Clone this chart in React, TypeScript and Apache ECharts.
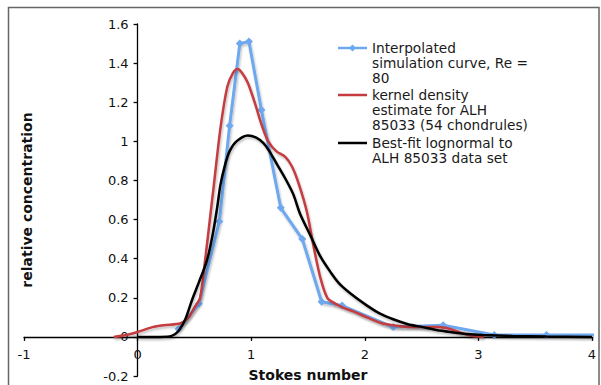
import React, { useEffect, useRef } from "react";
import * as echarts from "echarts";

const xTicks = { min: -1, max: 4, interval: 1 };
const yTicks = { min: -0.2, max: 1.6, interval: 0.2 };

const seriesNames = [
  "Interpolated\nsimulation curve, Re =\n80",
  "kernel density\nestimate for ALH\n85033 (54 chondrules)",
  "Best-fit lognormal to\nALH 85033 data set",
];

const simulationCurve: [number, number][] = [
  [0.36, 0.04], [0.54, 0.17], [0.72, 0.59], [0.81, 1.08], [0.9, 1.5], [0.98, 1.51],
  [1.09, 1.16], [1.26, 0.66], [1.45, 0.5], [1.62, 0.18], [1.8, 0.16], [2.25, 0.05],
  [2.69, 0.06], [3.14, 0.01], [3.6, 0.01], [4.06, 0.01],
];

const kernelDensity: [number, number][] = [
  [-0.21, 0], [-0.1, 0.01], [0, 0.025], [0.13, 0.05], [0.23, 0.06], [0.38, 0.07],
  [0.45, 0.1], [0.5, 0.15], [0.55, 0.2], [0.6, 0.42], [0.64, 0.62], [0.67, 0.77],
  [0.73, 1.07], [0.79, 1.28], [0.84, 1.35], [0.88, 1.37], [0.92, 1.35], [0.97, 1.3],
  [1.03, 1.2], [1.1, 1.07], [1.15, 1.0], [1.22, 0.95], [1.3, 0.92], [1.36, 0.87],
  [1.42, 0.78], [1.49, 0.64], [1.55, 0.46], [1.61, 0.3], [1.67, 0.2], [1.74, 0.17],
  [1.81, 0.15], [1.9, 0.13], [2.02, 0.1], [2.15, 0.07], [2.25, 0.06], [2.4, 0.05],
  [2.51, 0.05], [2.65, 0.05], [2.75, 0.04], [2.85, 0.02], [2.95, 0.005], [3.05, 0],
];

const lognormalFit: [number, number][] = [
  [0, 0], [0.2, 0], [0.3, 0.005], [0.36, 0.03], [0.42, 0.09], [0.48, 0.19],
  [0.54, 0.28], [0.61, 0.39], [0.66, 0.52], [0.7, 0.66], [0.73, 0.78], [0.77, 0.88],
  [0.81, 0.95], [0.87, 1.0], [0.97, 1.03], [1.04, 1.02], [1.11, 0.99], [1.17, 0.94],
  [1.23, 0.88], [1.3, 0.81], [1.37, 0.73], [1.43, 0.63], [1.52, 0.52], [1.61, 0.41],
  [1.7, 0.33], [1.78, 0.27], [1.9, 0.21], [2.02, 0.16], [2.13, 0.12], [2.25, 0.09],
  [2.38, 0.065], [2.51, 0.05], [2.63, 0.035], [2.75, 0.025], [2.9, 0.015], [3.04, 0.01],
  [3.3, 0.005], [3.6, 0.002], [4.0, 0],
];

const colors = ["#6ea8ee", "#c43c40", "#000000"];
const FONT = "DejaVu Sans";

const W = 601;
const H = 385;
const GRID = { left: 24, right: 9, top: 24, bottom: 9 };

export default function App() {
  const ref = useRef<HTMLDivElement>(null);
  useEffect(() => {
    if (!ref.current) return;
    const chart = echarts.init(ref.current, undefined, { renderer: "svg" });
    const shadow = {
      shadowColor: "rgba(0,0,0,0.25)",
      shadowBlur: 2,
      shadowOffsetX: 1,
      shadowOffsetY: 2,
    };
    // shift axes so that they cross at the origin (0, 0)
    const gw = W - GRID.left - GRID.right;
    const gh = H - GRID.top - GRID.bottom;
    const yAxisOffset = -((0 - xTicks.min) / (xTicks.max - xTicks.min)) * gw;
    const xAxisOffset = -((0 - yTicks.min) / (yTicks.max - yTicks.min)) * gh;

    const axisText = { fontFamily: FONT, fontSize: 13, color: "#111" };
    const legendX = 338;
    const legendTops = [40.5, 87.5, 135.5];
    const graphics: any[] = [
      {
        type: "rect",
        shape: { x: 8.5, y: 7.5, width: 590.5, height: 400 },
        style: { fill: "none", stroke: "#666", lineWidth: 1.5 },
        silent: true,
      },
    ];
    seriesNames.forEach((name, i) => {
      const cy = legendTops[i] + 7.5;
      graphics.push({
        type: "line",
        shape: { x1: legendX, y1: cy, x2: legendX + 29, y2: cy },
        style: { stroke: colors[i], lineWidth: 2.5 },
      });
      if (i === 0) {
        graphics.push({
          type: "polygon",
          shape: {
            points: [
              [legendX + 14.5, cy - 3.5],
              [legendX + 18, cy],
              [legendX + 14.5, cy + 3.5],
              [legendX + 11, cy],
            ],
          },
          style: { fill: colors[0] },
        });
      }
      graphics.push({
        type: "text",
        x: 372,
        y: legendTops[i],
        style: {
          text: name,
          fontFamily: FONT,
          fontSize: 13.7,
          lineHeight: 15,
          fill: "#1a1a1a",
          textVerticalAlign: "top",
          textAlign: "left",
        },
      });
    });

    chart.setOption({
      animation: false,
      backgroundColor: "#ffffff",
      grid: { ...GRID, containLabel: false, outerBoundsMode: "none" },
      xAxis: {
        type: "value",
        min: xTicks.min,
        max: xTicks.max,
        interval: xTicks.interval,
        offset: xAxisOffset,
        name: "Stokes number",
        nameLocation: "middle",
        nameGap: 31,
        nameTextStyle: { fontFamily: FONT, fontSize: 14, fontWeight: "bold", color: "#111" },
        axisLine: { onZero: false, lineStyle: { color: "#000", width: 1.3 } },
        axisTick: { show: true, length: 4, lineStyle: { color: "#000", width: 1.3 } },
        axisLabel: { ...axisText, margin: 11 },
        splitLine: { show: false },
      },
      yAxis: {
        type: "value",
        min: yTicks.min,
        max: yTicks.max,
        interval: yTicks.interval,
        offset: yAxisOffset,
        name: "relative concentration",
        nameLocation: "middle",
        nameRotate: 90,
        nameGap: 104,
        nameTextStyle: { fontFamily: FONT, fontSize: 14, fontWeight: "bold", color: "#111" },
        axisLine: { onZero: false, lineStyle: { color: "#000", width: 1.3 } },
        axisTick: { show: true, length: 4, lineStyle: { color: "#000", width: 1.3 } },
        axisLabel: { ...axisText, margin: 9 },
        splitLine: { show: false },
      },
      graphic: graphics,
      series: [
        {
          name: seriesNames[0],
          type: "line",
          data: simulationCurve,
          symbol: "diamond",
          symbolSize: 8,
          clip: true,
          itemStyle: { color: colors[0] },
          lineStyle: { color: colors[0], width: 3, ...shadow },
          z: 2,
        },
        {
          name: seriesNames[1],
          type: "line",
          data: kernelDensity,
          showSymbol: false,
          symbol: "none",
          smooth: 0.3,
          clip: true,
          lineStyle: { color: colors[1], width: 2.5, ...shadow },
          z: 3,
        },
        {
          name: seriesNames[2],
          type: "line",
          data: lognormalFit,
          showSymbol: false,
          symbol: "none",
          smooth: 0.3,
          clip: true,
          lineStyle: { color: colors[2], width: 2.5, ...shadow },
          z: 4,
        },
      ],
    });
    return () => chart.dispose();
  }, []);
  return (
    <div
      ref={ref}
      style={{ position: "fixed", left: 0, top: 0, width: W, height: H, background: "#fff" }}
    />
  );
}
